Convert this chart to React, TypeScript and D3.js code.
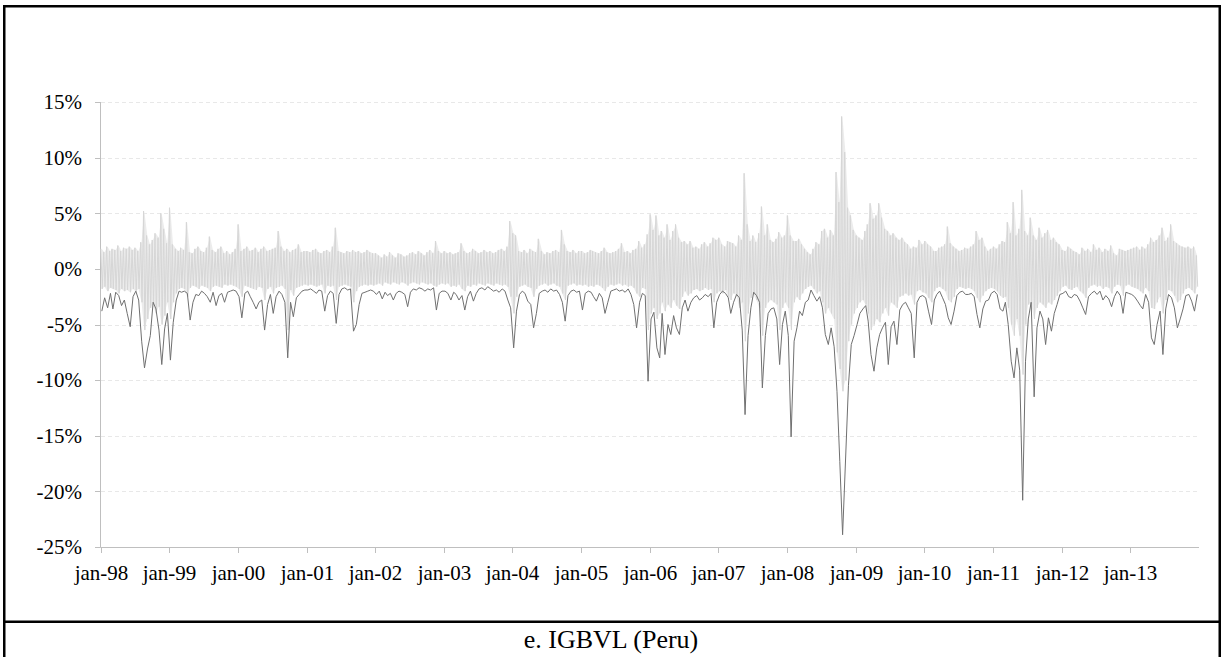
import React from 'react';
import * as d3 from 'd3';

// half-month bins, Jan 1998 .. Dec 2013, values in %
// upper / lower envelope of daily IGBVL returns in each half month
const retHigh = [
  1.8, 1.5, 2.0, 1.6, 1.8, 1.7, 2.1, 1.6, 1.9, 1.8, 2.0, 1.7, 1.9, 1.6, 2.4, 5.2, 3.0, 2.2, 2.6, 3.2, 2.8, 5.0, 3.6, 2.3, // 98
  5.5, 2.2, 1.8, 1.6, 1.9, 1.7, 4.2, 1.5, 1.4, 1.8, 2.0, 1.6, 1.5, 1.9, 2.9, 1.7, 1.5, 1.8, 2.0, 1.4, 1.6, 1.3, 1.5, 1.8, // 99
  4.0, 1.6, 1.8, 2.0, 1.6, 1.7, 1.9, 1.5, 1.8, 2.0, 1.6, 1.7, 1.8, 1.9, 3.4, 2.0, 1.6, 1.8, 1.5, 1.7, 1.8, 2.2, 1.5, 1.6, // 00
  1.6, 1.5, 1.7, 1.8, 1.5, 1.4, 1.6, 1.7, 1.5, 2.0, 3.7, 1.6, 1.5, 1.4, 1.6, 1.5, 1.7, 1.5, 1.6, 1.4, 1.5, 1.7, 1.5, 1.4, // 01
  1.4, 1.2, 1.0, 1.3, 1.1, 1.5, 1.2, 1.0, 1.4, 1.3, 1.1, 1.2, 1.4, 1.5, 1.3, 1.6, 1.4, 1.2, 1.5, 1.7, 1.4, 2.5, 1.6, 1.4, // 02
  1.6, 1.4, 1.5, 1.3, 1.4, 1.5, 2.3, 1.6, 1.4, 1.5, 1.8, 1.6, 1.4, 1.5, 1.7, 1.5, 1.6, 1.4, 1.5, 1.7, 1.8, 1.6, 2.0, 4.3, // 03
  3.2, 3.0, 1.6, 1.5, 1.7, 1.4, 1.8, 1.6, 1.5, 2.7, 1.6, 1.3, 1.5, 1.4, 1.6, 1.7, 1.5, 3.5, 2.2, 1.6, 1.5, 1.7, 1.4, 1.6, // 04
  1.6, 1.4, 1.5, 1.7, 1.6, 1.5, 1.4, 1.6, 1.9, 1.5, 1.4, 1.5, 1.6, 1.8, 2.3, 1.5, 1.6, 1.4, 1.7, 1.8, 2.5, 1.9, 2.2, 3.1, // 05
  4.9, 3.5, 4.8, 3.0, 3.4, 2.8, 4.0, 2.6, 3.4, 4.0, 2.8, 2.4, 2.5, 2.2, 2.5, 1.9, 2.0, 1.8, 2.2, 2.4, 2.0, 2.3, 2.8, 2.6, // 06
  2.8, 2.2, 2.0, 2.5, 2.4, 2.3, 2.0, 3.0, 2.6, 8.6, 4.0, 2.5, 3.0, 2.4, 3.2, 5.6, 3.0, 4.0, 2.6, 2.4, 2.7, 3.3, 2.8, 3.0, // 07
  4.8, 3.0, 2.5, 2.5, 2.7, 2.2, 1.8, 1.5, 1.3, 1.8, 2.4, 2.2, 3.4, 3.6, 2.8, 3.5, 3.0, 8.7, 6.0, 13.7, 10.5, 5.5, 4.8, 3.5, // 08
  3.0, 2.8, 2.6, 3.4, 4.0, 5.9, 4.5, 4.8, 5.9, 4.6, 3.6, 3.4, 3.0, 3.2, 2.8, 2.6, 2.8, 2.4, 2.2, 1.8, 2.0, 1.9, 2.6, 2.2, // 09
  2.5, 2.2, 2.0, 1.6, 1.6, 1.9, 2.0, 2.2, 3.8, 2.3, 2.0, 1.8, 1.6, 1.7, 1.9, 1.8, 2.0, 2.2, 3.4, 2.6, 2.8, 2.0, 1.6, 1.8, // 10
  2.0, 1.8, 2.2, 2.5, 2.4, 4.2, 3.2, 6.0, 3.0, 3.6, 7.1, 3.4, 3.0, 4.6, 3.0, 2.6, 3.7, 2.8, 3.2, 3.5, 2.6, 2.8, 2.4, 2.2, // 11
  1.7, 1.6, 2.0, 1.8, 1.6, 1.5, 1.3, 1.9, 1.6, 1.8, 1.5, 2.2, 1.7, 1.9, 1.5, 1.8, 1.6, 2.1, 1.4, 1.2, 1.8, 1.7, 1.6, 1.7, // 12
  1.8, 1.9, 2.0, 1.7, 2.0, 1.8, 2.2, 2.8, 2.4, 2.6, 3.0, 3.7, 2.5, 2.8, 4.0, 2.5, 2.3, 2.1, 2.0, 1.9, 2.0, 1.8, 2.0, 1.2, // 13
];

const retLow = [
  -1.8, -1.6, -2.0, -1.7, -1.8, -1.9, -2.2, -1.8, -2.0, -1.9, -2.1, -1.8, -2.0, -1.8, -3.0, -5.5, -4.5, -3.5, -3.2, -4.0, -3.4, -5.0, -4.2, -3.0,
  -4.5, -3.0, -2.2, -1.8, -1.7, -1.8, -2.5, -1.7, -1.5, -1.6, -1.8, -1.5, -1.6, -1.7, -2.0, -1.6, -1.5, -1.6, -1.7, -1.4, -1.5, -1.4, -1.5, -1.6,
  -1.8, -2.5, -1.5, -1.6, -1.7, -1.8, -1.9, -1.6, -1.7, -2.8, -1.8, -1.6, -2.2, -1.7, -1.6, -1.5, -1.8, -5.5, -1.9, -2.4, -1.7, -1.6, -1.5, -1.4,
  -1.5, -1.4, -1.5, -1.6, -1.5, -1.4, -2.2, -1.5, -1.6, -1.5, -2.8, -1.6, -1.5, -1.4, -1.5, -1.6, -3.0, -2.0, -1.6, -1.5, -1.4, -1.5, -1.4, -1.5,
  -1.4, -1.3, -1.5, -1.2, -1.3, -1.4, -1.2, -1.3, -1.4, -1.2, -1.3, -1.5, -1.3, -1.2, -1.3, -1.4, -1.2, -1.3, -1.4, -1.3, -1.5, -1.6, -1.4, -1.3,
  -1.4, -1.3, -1.6, -1.5, -1.6, -1.4, -1.8, -2.0, -1.5, -1.6, -1.4, -1.5, -1.3, -1.4, -1.5, -1.3, -1.4, -1.5, -1.3, -1.4, -1.5, -1.4, -1.6, -2.5,
  -4.0, -2.5, -1.6, -1.5, -1.4, -1.6, -1.7, -2.5, -1.8, -1.5, -1.4, -1.3, -1.5, -1.4, -1.3, -1.5, -1.6, -2.2, -2.8, -1.5, -1.4, -1.3, -1.5, -1.4,
  -1.5, -1.4, -1.6, -1.5, -1.6, -1.4, -1.5, -1.7, -2.0, -1.6, -1.4, -1.5, -1.4, -1.3, -1.5, -1.4, -1.6, -1.5, -1.7, -2.2, -2.5, -1.7, -1.8, -5.5,
  -4.0, -3.5, -4.5, -4.0, -3.0, -3.8, -3.2, -3.5, -2.8, -3.3, -3.6, -2.5, -2.0, -2.4, -2.2, -1.9, -1.8, -2.0, -1.9, -1.7, -1.9, -1.8, -3.0, -2.2,
  -2.0, -2.2, -1.9, -2.5, -2.8, -2.2, -2.4, -3.5, -3.0, -6.5, -4.0, -2.6, -2.3, -2.8, -3.5, -6.0, -3.5, -3.0, -2.8, -3.0, -3.2, -5.5, -3.5, -3.0,
  -3.5, -5.5, -3.0, -2.5, -2.8, -2.2, -1.8, -1.6, -1.5, -1.8, -2.2, -2.0, -3.0, -4.0, -3.5, -4.0, -4.5, -7.5, -9.0, -11.0, -10.0, -6.5, -5.0, -4.0,
  -3.5, -3.0, -2.8, -3.2, -4.0, -5.5, -5.0, -4.5, -4.8, -4.0, -3.5, -4.2, -3.0, -3.2, -3.5, -2.5, -2.4, -2.2, -2.4, -2.3, -3.2, -2.0, -1.9, -2.1,
  -2.2, -2.6, -3.0, -2.0, -1.7, -1.6, -1.8, -2.0, -2.8, -3.0, -2.5, -1.8, -1.6, -1.7, -1.8, -1.7, -1.8, -2.0, -2.6, -3.0, -2.4, -2.0, -1.8, -1.7,
  -1.8, -2.0, -2.4, -2.6, -2.5, -3.5, -5.0, -6.0, -4.5, -6.0, -9.5, -5.0, -3.2, -3.0, -4.5, -3.5, -3.0, -3.2, -3.5, -3.0, -3.2, -2.8, -2.4, -2.0,
  -1.6, -1.5, -1.8, -1.9, -1.7, -1.6, -2.0, -2.2, -2.6, -1.7, -1.5, -1.4, -1.6, -1.5, -1.8, -1.6, -1.7, -2.2, -1.6, -1.4, -1.5, -2.4, -1.5, -1.4,
  -1.6, -1.7, -1.8, -2.0, -2.2, -1.7, -2.0, -3.5, -3.6, -3.0, -2.5, -4.0, -2.8, -1.9, -2.0, -2.4, -3.0, -2.8, -2.2, -1.8, -1.7, -1.9, -2.2, -1.6,
];

// value at risk estimate (dark line)
const varLine = [
  -3.8, -2.6, -3.5, -2.2, -3.6, -2.1, -2.4, -3.3, -2.8, -4.0, -5.2, -2.5, -2.0, -2.8, -6.5, -8.9, -7.2, -6.0, -3.0, -3.6, -5.5, -8.6, -5.4, -4.0,
  -8.2, -4.8, -2.8, -2.0, -2.1, -2.0, -2.2, -4.6, -3.0, -2.3, -2.4, -2.0, -2.2, -2.5, -3.0, -2.1, -3.3, -2.4, -2.2, -3.0, -2.1, -2.0, -1.9, -2.0,
  -2.5, -4.4, -2.2, -2.0, -2.5, -3.0, -3.6, -3.0, -2.8, -5.5, -3.2, -2.3, -4.0, -2.5, -2.0, -2.3, -3.0, -8.0, -3.0, -4.3, -2.6, -2.3, -2.0, -1.9,
  -1.9, -1.8, -2.0, -2.2, -1.9, -2.0, -3.8, -2.4, -2.0, -2.2, -4.9, -2.3, -1.8, -1.7, -1.9, -1.8, -5.6, -5.0, -3.2, -2.2, -2.1, -2.0, -1.9, -2.0,
  -2.3, -2.0, -2.7, -2.1, -2.4, -2.2, -2.8, -2.2, -2.0, -2.1, -2.3, -3.4, -2.1, -1.8, -1.9, -1.7, -1.8, -2.0, -1.8, -1.9, -1.7, -3.7, -2.2, -2.0,
  -2.0, -2.2, -2.8, -2.1, -2.3, -2.8, -2.4, -3.7, -2.5, -2.0, -2.9, -2.2, -1.8, -1.7, -1.9, -1.6, -1.8, -2.0, -1.9, -2.1, -1.8, -2.0, -2.8, -3.5,
  -7.1, -3.8, -2.3, -2.0, -2.2, -2.9, -3.2, -5.3, -4.0, -2.2, -2.0, -1.9, -2.1, -1.8, -2.0, -1.9, -2.3, -3.0, -4.7, -2.4, -2.0, -1.9, -2.1, -2.0,
  -3.7, -2.2, -2.0, -2.1, -2.5, -2.9, -2.2, -2.6, -4.0, -3.0, -2.0, -1.9, -1.8, -2.0, -1.9, -2.1, -1.8, -2.3, -3.2, -5.3, -3.0, -2.2, -2.4, -10.1,
  -4.5, -3.9, -7.1, -8.0, -4.0, -7.7, -5.0, -5.9, -4.2, -5.3, -5.9, -3.5, -2.8, -3.8, -3.0, -2.6, -2.4, -2.8, -2.6, -2.3, -2.5, -2.2, -5.3, -3.0,
  -2.3, -2.0, -2.2, -2.6, -4.0, -3.0, -2.3, -2.6, -5.5, -13.1, -6.0, -3.5, -2.1, -2.4, -3.0, -10.7, -6.0, -4.0, -3.6, -3.5, -4.5, -8.6, -5.0, -3.8,
  -6.0, -15.1, -6.5, -5.3, -3.8, -4.2, -3.0, -2.8, -1.9, -2.4, -2.9, -2.5, -3.5, -5.9, -6.8, -5.3, -7.0, -11.0, -17.3, -23.9, -17.0, -10.5, -6.8, -6.0,
  -5.0, -4.0, -3.6, -3.3, -4.7, -7.7, -9.2, -7.1, -5.9, -5.3, -4.8, -8.6, -5.2, -4.7, -6.8, -3.7, -3.2, -3.0, -3.5, -4.0, -8.0, -3.0, -2.5, -2.4,
  -2.6, -3.8, -5.0, -2.8, -2.3, -2.0, -2.6, -3.2, -4.4, -5.0, -3.8, -2.4, -2.1, -2.0, -2.3, -2.3, -2.2, -2.5, -4.1, -5.3, -3.6, -2.9, -2.8, -2.2,
  -2.0, -2.3, -3.6, -3.8, -3.0, -5.0, -8.3, -9.8, -7.1, -9.1, -20.8, -8.3, -4.5, -3.0, -11.5, -5.3, -3.8, -4.5, -6.8, -4.4, -5.6, -4.0, -3.2, -2.3,
  -2.2, -2.0, -2.5, -2.6, -2.3, -2.4, -2.9, -3.5, -4.1, -2.5, -2.2, -2.0, -2.3, -2.0, -2.8, -2.4, -2.7, -3.4, -2.5, -2.0, -2.4, -4.0, -2.1, -2.2,
  -2.3, -2.5, -2.9, -3.3, -3.6, -2.3, -3.0, -6.2, -6.8, -5.0, -3.8, -7.7, -3.6, -2.3, -2.6, -3.5, -5.3, -4.5, -3.6, -2.4, -2.3, -2.9, -3.8, -2.3,
];

const tickYears = d3.range(1998, 2014);
const xTickLabels = ['jan-98', 'jan-99', 'jan-00', 'jan-01', 'jan-02', 'jan-03', 'jan-04', 'jan-05',
  'jan-06', 'jan-07', 'jan-08', 'jan-09', 'jan-10', 'jan-11', 'jan-12', 'jan-13'];
const yTicks = [15, 10, 5, 0, -5, -10, -15, -20, -25];
const caption = 'e. IGBVL (Peru)';

const W = 1222;
const H = 657;

// date of a half-month bin, shifted by some days inside the bin
const binDate = (k: number, offset: number) =>
  new Date(1998 + Math.floor(k / 24), Math.floor((k % 24) / 2), (k % 2 ? 16 : 1) + offset);

const App = () => {
  const x = d3.scaleTime()
    .domain([new Date(1998, 0, 1), new Date(2014, 0, 1)])
    .range([100.5, 1199]);
  const y = d3.scaleLinear()
    .domain([-25, 15])
    .range([547, 102]);

  const line = d3.line<[Date, number]>()
    .x(d => x(d[0]))
    .y(d => y(d[1]));

  // zig-zag between the envelopes of each half month
  const retPts: [Date, number][] = [];
  retHigh.forEach((hi, k) => {
    retPts.push([binDate(k, 2), hi]);
    retPts.push([binDate(k, 9), retLow[k]]);
  });
  const varPts: [Date, number][] = varLine.map((v, k) => [binDate(k, 7), v]);

  // pale fill between the two envelopes, under the zig-zag
  const band = d3.area<number>()
    .x((_, k) => x(binDate(k, 6)))
    .y0((_, k) => y(retLow[k]))
    .y1(d => y(d));

  const font = '"Liberation Serif", "Times New Roman", serif';
  const axisColor = '#bfbfbf';

  return (
    <svg width={W} height={H} style={{ position: 'absolute', left: 0, top: 0, background: '#fff' }}
      fontFamily={font}>
      {/* table frame */}
      <path d="M4.25,657 V6.25 H1219.75 V657" fill="none" stroke="#000" strokeWidth={2.5} />
      <line x1={4} x2={1220} y1={621.75} y2={621.75} stroke="#000" strokeWidth={2.5} />

      {/* gridlines */}
      {yTicks.filter(t => t !== -25).map(t => (
        <line key={'g' + t} x1={101} x2={1199} y1={Math.round(y(t)) + 0.5} y2={Math.round(y(t)) + 0.5}
          stroke="#e8e8e8" strokeDasharray="4,3" />
      ))}

      {/* axes */}
      <line x1={100.5} x2={100.5} y1={102} y2={547.5} stroke={axisColor} />
      <line x1={100.5} x2={1199} y1={547.5} y2={547.5} stroke={axisColor} />
      {yTicks.map(t => (
        <g key={'y' + t}>
          <line x1={95} x2={100.5} y1={Math.round(y(t)) + 0.5} y2={Math.round(y(t)) + 0.5} stroke={axisColor} />
          <text x={82} y={y(t)} dy="0.35em" textAnchor="end" fontSize={21} fill="#000">{t}%</text>
        </g>
      ))}
      {tickYears.map((yr, i) => {
        const xx = Math.round(x(new Date(yr, 0, 1))) + 0.5;
        return (
          <g key={'x' + yr}>
            <line x1={xx} x2={xx} y1={547.5} y2={553} stroke={axisColor} />
            <text x={xx} y={580} textAnchor="middle" fontSize={21} fill="#000">{xTickLabels[i]}</text>
          </g>
        );
      })}

      {/* series */}
      <path d={band(retHigh) || ''} fill="#ececec" stroke="none" />
      <path d={line(retPts) || ''} fill="none" stroke="#d6d6d6" strokeWidth={1} />
      <path d={line(varPts) || ''} fill="none" stroke="#707070" strokeWidth={1} />

      <text x={611} y={648} textAnchor="middle" fontSize={26} fill="#000">{caption}</text>
    </svg>
  );
};

export default App;
